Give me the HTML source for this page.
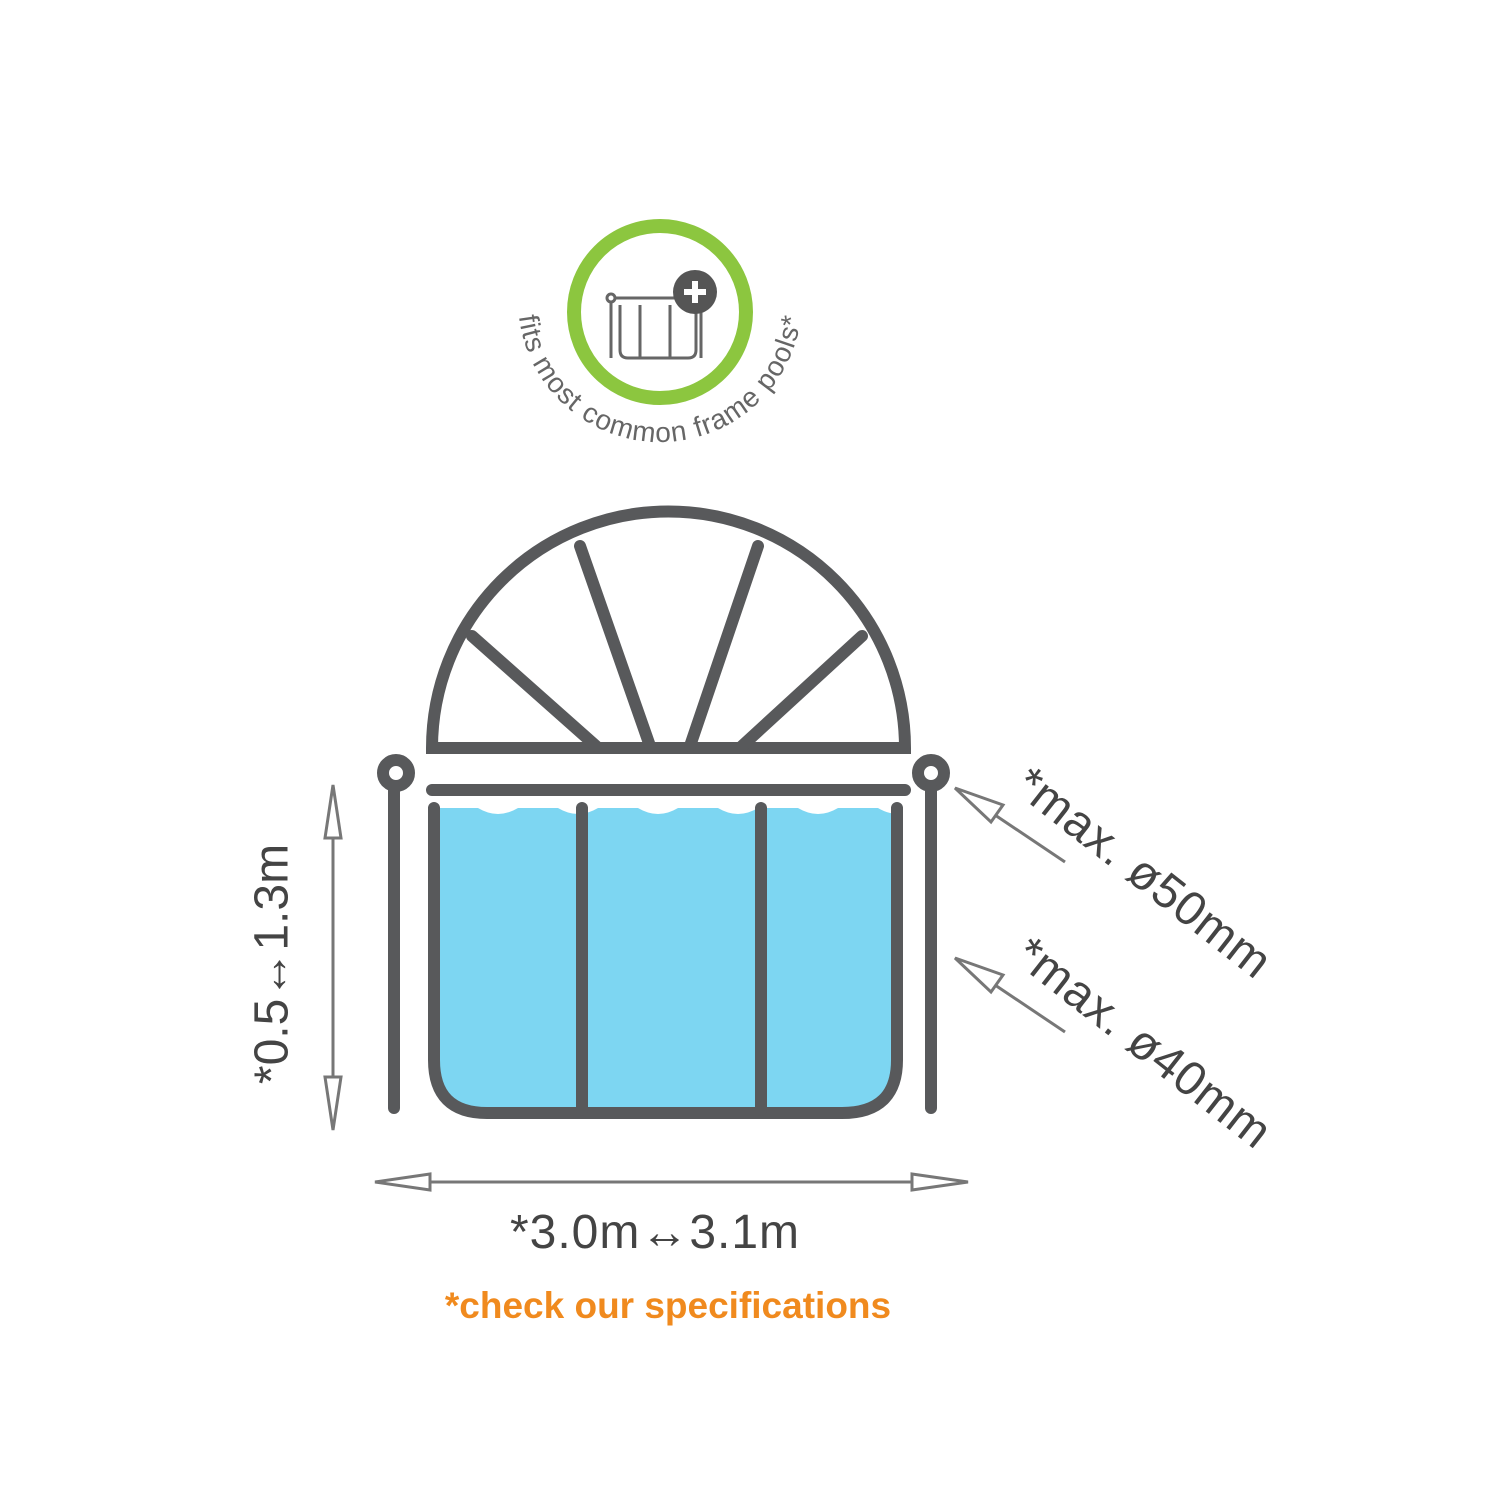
<!DOCTYPE html>
<html><head><style>body{margin:0;background:#fff}svg{display:block}</style></head><body>
<svg width="1500" height="1500" viewBox="0 0 1500 1500" xmlns="http://www.w3.org/2000/svg" font-family="Liberation Sans, sans-serif">
<defs>
<path id="arc" d="M 518 300 A 142 142 0 0 0 802 300"/>
</defs>
<!-- logo -->
<circle cx="660" cy="312" r="86" fill="none" stroke="#8cc63f" stroke-width="14"/>
<g stroke="#666" stroke-width="3" fill="none">
<circle cx="611" cy="298" r="4"/>
<line x1="611" y1="302" x2="611" y2="358"/>
<line x1="616" y1="298" x2="690" y2="298"/>
<path d="M620 305 V350 Q620 358 628 358 H688 Q696 358 696 350 V305"/>
<line x1="640" y1="305" x2="640" y2="358"/><line x1="670" y1="305" x2="670" y2="358"/>
<line x1="701" y1="302" x2="701" y2="358"/>
</g>
<circle cx="695" cy="292" r="22" fill="#555"/>
<path d="M695 281v22M684 292h22" stroke="#fff" stroke-width="6"/>
<text font-size="28" fill="#666" letter-spacing="1"><textPath href="#arc" startOffset="50%" text-anchor="middle">fits most common frame pools*</textPath></text>
<!-- pool -->
<path d="M432 1060 V808 H897 V1060 Q897 1113 844 1113 H485 Q432 1113 432 1060 Z" fill="#7dd6f2"/>
<path d="M438 808 q20 -12 40 0 t40 0 t40 0 t40 0 t40 0 t40 0 t40 0 t40 0 t40 0 t40 0 t40 0 t40 0 V800 H438 Z" fill="#fff"/>
<g stroke="#58595b" stroke-width="12" fill="none" stroke-linecap="round">
<path d="M432 748 A236 236 0 0 1 905 748 Z"/>
<line x1="472" y1="636" x2="596" y2="746"/>
<line x1="580" y1="546" x2="650" y2="746"/>
<line x1="758" y1="546" x2="690" y2="746"/>
<line x1="862" y1="636" x2="742" y2="746"/>
<line x1="432" y1="790" x2="905" y2="790"/>
<circle cx="396" cy="773" r="13"/><circle cx="931" cy="773" r="13"/>
<line x1="394" y1="786" x2="394" y2="1108"/>
<line x1="931" y1="786" x2="931" y2="1108"/>
<path d="M434 808 V1060 Q434 1113 487 1113 H842 Q897 1113 897 1060 V808"/>
<line x1="582" y1="808" x2="582" y2="1110"/>
<line x1="761" y1="808" x2="761" y2="1110"/>
</g>
<!-- dimension arrows -->
<g stroke="#777" stroke-width="3" fill="#fff">
<line x1="333" y1="835" x2="333" y2="1078"/>
<path d="M333 785 L325 838 H341 Z"/><path d="M333 1130 L325 1077 H341 Z"/>
<line x1="430" y1="1182" x2="912" y2="1182"/>
<path d="M375 1182 L430 1174 V1190 Z"/><path d="M968 1182 L912 1174 V1190 Z"/>
<line x1="995" y1="815" x2="1065" y2="862"/>
<path d="M955 788 L1003 805 L991 822 Z"/>
<line x1="995" y1="985" x2="1065" y2="1032"/>
<path d="M955 958 L1003 975 L991 992 Z"/>
</g>
<g fill="#444">
<text x="275" y="964" font-size="48" text-anchor="middle" dominant-baseline="middle" transform="rotate(-90 275 964)">*0.5↔1.3m</text>
<text x="655" y="1248" font-size="48" text-anchor="middle" letter-spacing="1">*3.0m↔3.1m</text>
<text x="1012" y="790" font-size="48" letter-spacing="1" transform="rotate(38 1012 790)">*max. ø50mm</text>
<text x="1012" y="960" font-size="48" letter-spacing="1" transform="rotate(38 1012 960)">*max. ø40mm</text>
</g>
<text x="668" y="1318" font-size="37" font-weight="bold" fill="#f08a1e" text-anchor="middle">*check our specifications</text>
</svg>
</body></html>
